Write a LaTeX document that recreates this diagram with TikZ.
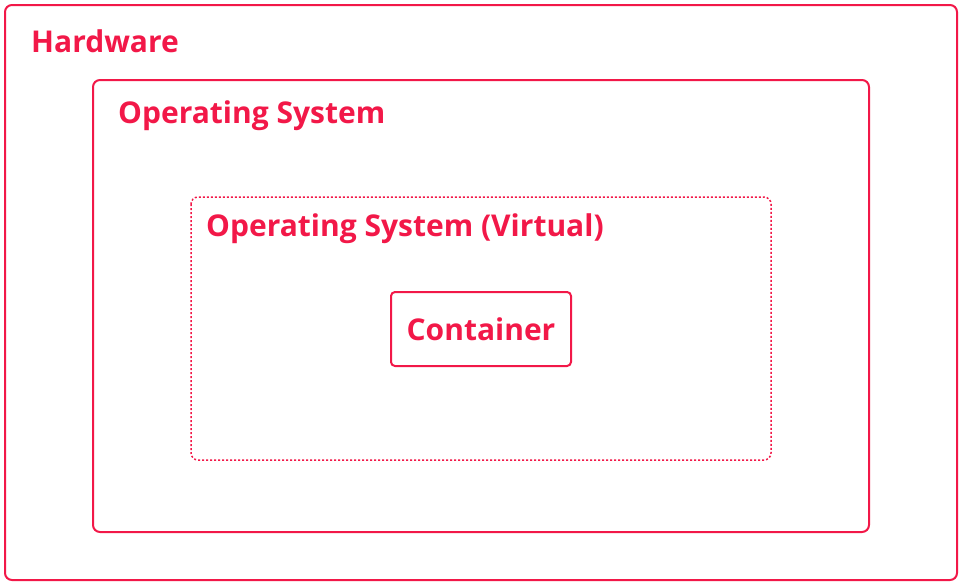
\documentclass[tikz,border=0pt]{standalone}
\usepackage{fontspec}
\setmainfont{Open Sans}
\definecolor{accent}{RGB}{242,24,72}
\begin{document}
\begin{tikzpicture}[x=1pt,y=-1pt]
  \tikzset{
    layer/.style={draw=accent, line width=2pt, rounded corners=7pt},
    title/.style={text=accent, font=\fontsize{30}{34}\selectfont\bfseries, anchor=west, inner sep=0pt}
  }
  \useasboundingbox (0,0) rectangle (963,584);
  \draw[layer] (5,5) rectangle (957,580);
  \node[title] (hw) at (31,41) {Hardware};
  \draw[layer] (93,80) rectangle (869,532);
  \node[title] (os) at (118,116) {Operating System};
  \draw[layer, dotted, line width=1.5pt] (191,197) rectangle (771,460);
  \node[title] (vos) at (206,229) {Operating System (Virtual)};
  \node[layer, title, anchor=center, minimum width=180pt, minimum height=74pt, rounded corners=4pt] (ct) at (481,329) {Container};
\end{tikzpicture}
\end{document}
